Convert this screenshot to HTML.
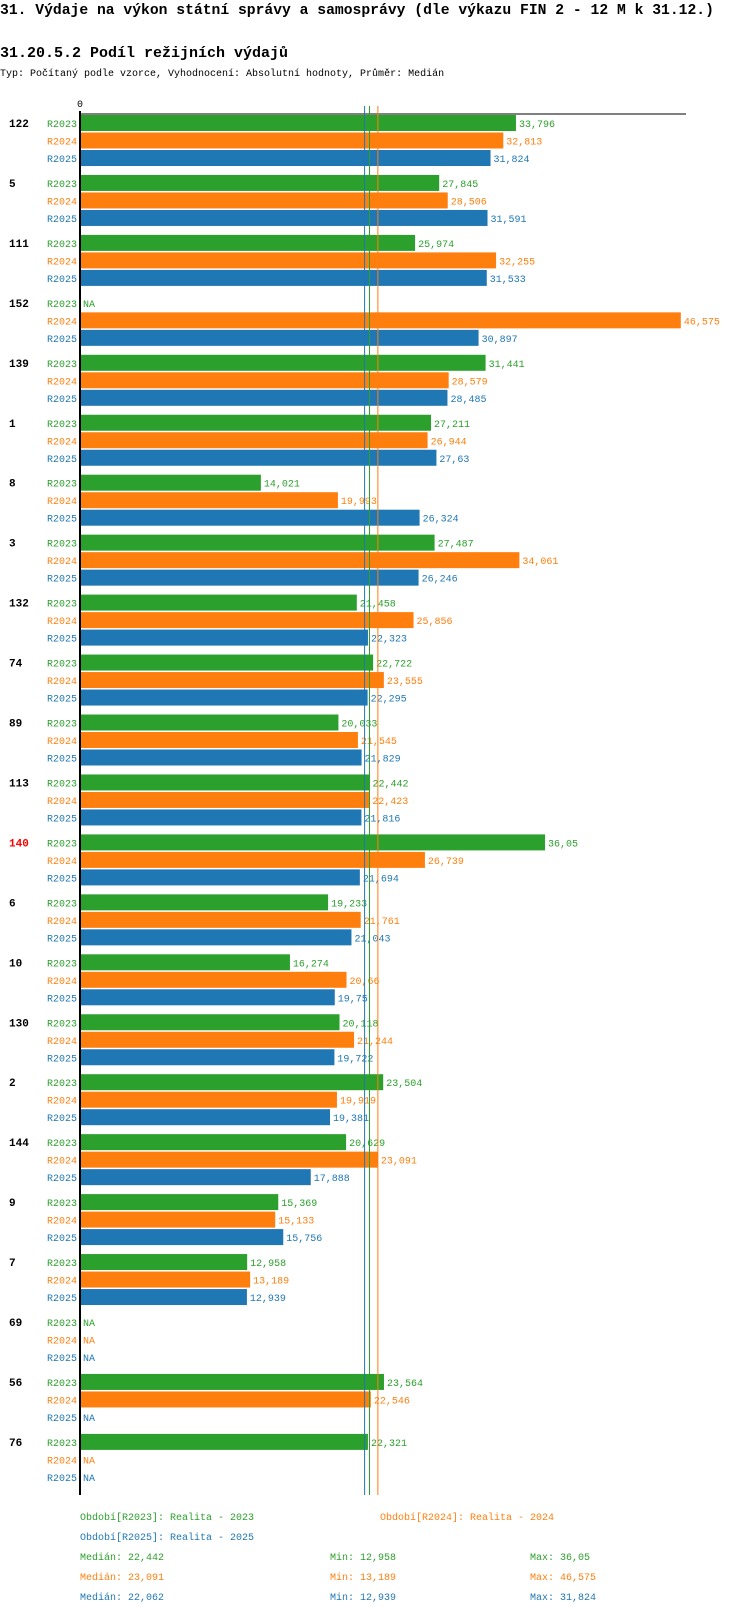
<!DOCTYPE html>
<html><head><meta charset="utf-8">
<style>
body{margin:0;background:#fff;width:750px;height:1614px;overflow:hidden;font-family:"Liberation Mono",monospace;}
svg{position:absolute;left:0;top:0}
</style></head>
<body>
<svg id="chart" width="750" height="1614" xmlns="http://www.w3.org/2000/svg">
<text x="0" y="14" font-size="14.7" font-weight="bold" font-family="Liberation Mono">31. Výdaje na výkon státní správy a samosprávy (dle výkazu FIN 2 - 12 M k 31.12.)</text>
<text x="0" y="57" font-size="15" font-weight="bold" font-family="Liberation Mono">31.20.5.2 Podíl režijních výdajů</text>
<text x="0" y="76" font-size="10" font-family="Liberation Mono">Typ: Počítaný podle vzorce, Vyhodnocení: Absolutní hodnoty, Průměr: Medián</text>
<g id="plot"></g>
</svg>
<script>
const categories=["122","5","111","152","139","1","8","3","132","74","89","113","140","6","10","130","2","144","9","7","69","56","76"];
const seriesNames=["R2023","R2024","R2025"];
const r2023=[33.796,27.845,25.974,null,31.441,27.211,14.021,27.487,21.458,22.722,20.033,22.442,36.05,19.233,16.274,20.118,23.504,20.629,15.369,12.958,null,23.564,22.321];
const r2024=[32.813,28.506,32.255,46.575,28.579,26.944,19.993,34.061,25.856,23.555,21.545,22.423,26.739,21.761,20.66,21.244,19.919,23.091,15.133,13.189,null,22.546,null];
const r2025=[31.824,31.591,31.533,30.897,28.485,27.63,26.324,26.246,22.323,22.295,21.829,21.816,21.694,21.043,19.75,19.722,19.381,17.888,15.756,12.939,null,null,null];
const medians=[22.442,23.091,22.062];
const mins=[12.958,13.189,12.939];
const maxs=[36.05,46.575,31.824];
const highlighted="140";
const colors=["#2ca02c","#ff7f0e","#1f77b4"];
const series=[r2023,r2024,r2025];
const NS="http://www.w3.org/2000/svg";
const g=document.getElementById('plot');
const X0=80,K=12.9;
const xs=v=>X0+v*K;
const groupY=i=>115+i*59.95;
const barY=(i,s)=>groupY(i)+s*17.5;
const fmt=v=>String(v).replace('.',',');
function mk(tag,attrs,text){const e=document.createElementNS(NS,tag);for(const k in attrs)e.setAttribute(k,attrs[k]);if(text!==undefined)e.textContent=text;g.appendChild(e);return e;}
const bottom=1495;
let e=mk('line',{x1:X0,y1:114,x2:686,y2:114,stroke:'#000','stroke-width':1});


e=mk('text',{x:X0,y:107,'font-size':10,'text-anchor':'middle','font-family':'Liberation Mono'},'0');


categories.forEach((c,i)=>{
  let t=mk('text',{x:9,y:groupY(i)+12,'font-size':11,'font-weight':'bold',fill:c===highlighted?'#ff0000':'#000','font-family':'Liberation Mono'},c);
  
  
  series.forEach((arr,s)=>{
    const y=barY(i,s),v=arr[i];
    let l=mk('text',{x:77,y:y+12,'font-size':10,'text-anchor':'end',fill:colors[s],'font-family':'Liberation Mono'},seriesNames[s]);
    
    
    if(v===null){
      let n=mk('text',{x:X0+3,y:y+12,'font-size':10,fill:colors[s],'font-family':'Liberation Mono'},'NA');
      
      
    }else{
      let r=mk('rect',{x:X0,y:y,width:xs(v)-X0,height:16,fill:colors[s]});
      
      
      let n=mk('text',{x:xs(v)+3,y:y+12,'font-size':10,fill:colors[s],'font-family':'Liberation Mono'},fmt(v));
      
      
    }
  });
});
[2,0,1].forEach(s=>{
  let m=mk('line',{x1:xs(medians[s]),y1:106,x2:xs(medians[s]),y2:bottom,stroke:colors[s],'stroke-width':1});
  
  
});
e=mk('line',{x1:X0,y1:111,x2:X0,y2:bottom,stroke:'#000','stroke-width':2});


function txt(x,y,col,s,name){let t=mk('text',{x:x,y:y,'font-size':10,fill:col,'font-family':'Liberation Mono'},s);}
txt(80,1520,colors[0],'Období[R2023]: Realita - 2023','legend-entry-r2023');
txt(380,1520,colors[1],'Období[R2024]: Realita - 2024','legend-entry-r2024');
txt(80,1540,colors[2],'Období[R2025]: Realita - 2025','legend-entry-r2025');
[0,1,2].forEach(s=>{
  const y=1560+s*20;
  txt(80,y,colors[s],'Medián: '+fmt(medians[s]),'median-stat');
  txt(330,y,colors[s],'Min: '+fmt(mins[s]),'min-stat');
  txt(530,y,colors[s],'Max: '+fmt(maxs[s]),'max-stat');
});
</script>
</body></html>
